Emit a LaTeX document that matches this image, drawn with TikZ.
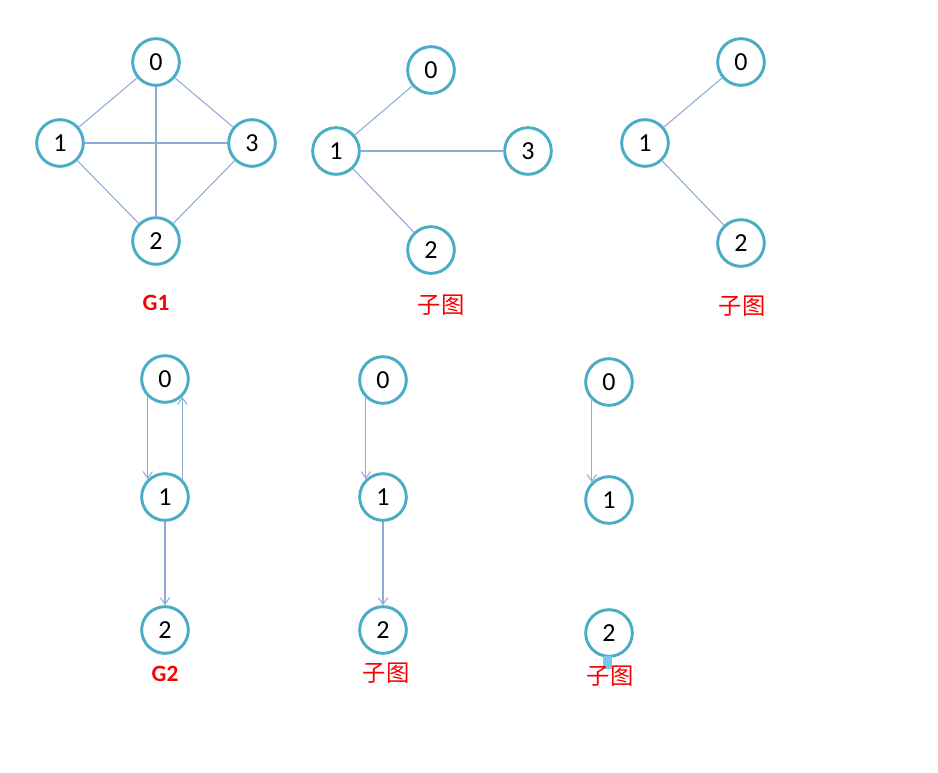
\documentclass[tikz,border=0pt]{standalone}
\usepackage{fontspec}
\setmainfont{Carlito}
\newfontfamily\cjk{Noto Sans CJK SC}
\usetikzlibrary{arrows.meta}
\definecolor{ringblue}{RGB}{75,172,198}
\definecolor{edgeblue}{RGB}{143,170,215}
\definecolor{labred}{RGB}{250,0,0}
\definecolor{smudge}{RGB}{120,200,235}

\begin{document}
\begin{tikzpicture}[x=0.75pt, y=-0.75pt,
    vtx/.style={circle, draw=ringblue, line width=2.2pt, minimum size=35pt, inner sep=0pt, font=\fontsize{19.5}{21}\selectfont},
    edge/.style={draw=edgeblue, line width=0.8pt},
    arc/.style={edge, -{Straight Barb[length=5pt, width=7pt]}},
    gname/.style={text=labred, font=\bfseries\fontsize{17.5}{19}\selectfont},
    subname/.style={text=labred, font=\cjk\fontsize{17.5}{19}\selectfont}]
    \useasboundingbox (0,0) rectangle (938,772);
    % G1
    \foreach \n/\x/\y in {0/156/62,1/60/143,3/252/143,2/156/241}
        \node[vtx] (ga\n) at (\x,\y) {\n};
    \foreach \a/\b in {0/1,0/3,0/2,1/3,1/2,3/2}
        \draw[edge] (ga\a) -- (ga\b);
    \node[gname] (ganame) at (156,303) {G1};
    % first subgraph of G1
    \foreach \n/\x/\y in {0/431/70,1/336/151,3/528/151,2/431/250}
        \node[vtx] (gb\n) at (\x,\y) {\n};
    \foreach \a/\b in {1/0,1/3,1/2}
        \draw[edge] (gb\a) -- (gb\b);
    \node[subname] (gbname) at (441,305) {子图};
    % second subgraph of G1
    \foreach \n/\x/\y in {0/741/62,1/645/143,2/741/243}
        \node[vtx] (gc\n) at (\x,\y) {\n};
    \foreach \a/\b in {1/0,1/2}
        \draw[edge] (gc\a) -- (gc\b);
    \node[subname] (gcname) at (742,306) {子图};
    % G2
    \foreach \n/\y in {0/379,1/497,2/630}
        \node[vtx] (gd\n) at (165,\y) {\n};
    \draw[arc] (gd0.226) -- (gd1.134);
    \draw[arc] (gd1.46) -- (gd0.314);
    \draw[arc] (gd1) -- (gd2);
    \node[gname] (gdname) at (165,674) {G2};
    % first subgraph of G2
    \foreach \n/\y in {0/380,1/497,2/630}
        \node[vtx] (ge\n) at (383,\y) {\n};
    \draw[arc] (ge0.226) -- (ge1.134);
    \draw[arc] (ge1) -- (ge2);
    \node[subname] (gename) at (386,673) {子图};
    % second subgraph of G2
    \foreach \n/\y in {0/382,1/500,2/633}
        \node[vtx] (gf\n) at (609,\y) {\n};
    \draw[arc] (gf0.226) -- (gf1.134);
    \fill[smudge] (603,656) rectangle (612,669);
    \node[subname] (gfname) at (610,676) {子图};
\end{tikzpicture}
\end{document}
